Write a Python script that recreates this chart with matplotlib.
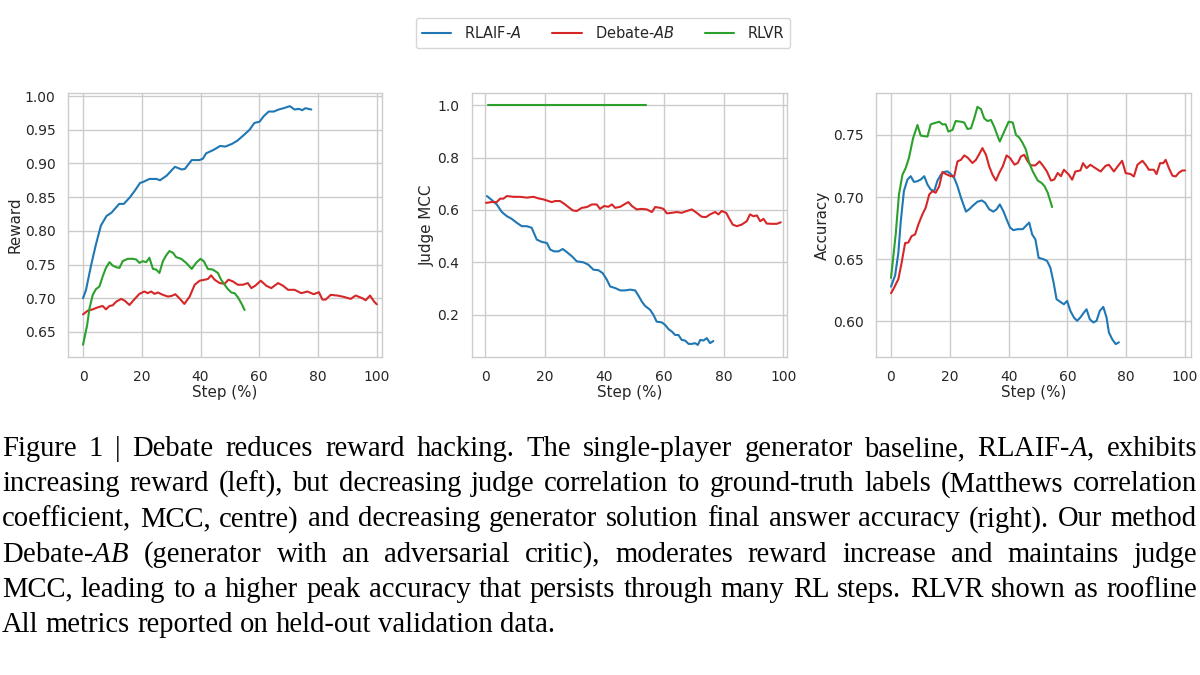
import numpy as np
import matplotlib
matplotlib.use("Agg")
import matplotlib.pyplot as plt
import seaborn as sns

# ---- data ----
steps_reward_rlaif = [0, 1.0, 2.7, 4.4, 6.1, 8, 9.7, 12.3, 13.9, 16, 17.7, 19.4, 20.7, 22.6, 25, 26.2,
                      28.5, 30.2, 31.3, 33.6, 34.7, 37, 39.6, 40.8, 41.9, 44.4, 46.7, 48.4, 50.7, 52.6,
                      54.7, 56.7, 58.3, 60.1, 61.5, 63.2, 64.9, 66.6, 68.3, 70.4, 72, 73.5, 74.6, 75.7, 77.7]
reward_rlaif = [0.700, 0.712, 0.748, 0.780, 0.808, 0.822, 0.827, 0.840, 0.840, 0.850, 0.860, 0.871,
                0.873, 0.877, 0.877, 0.875, 0.882, 0.890, 0.895, 0.891, 0.892, 0.905, 0.905, 0.907,
                0.915, 0.920, 0.926, 0.925, 0.929, 0.934, 0.942, 0.950, 0.960, 0.962, 0.970, 0.977,
                0.977, 0.980, 0.982, 0.985, 0.980, 0.981, 0.979, 0.982, 0.980]

steps_reward_debate = [0, 1.6, 3.3, 5, 6.7, 7.8, 9, 10.1, 11.3, 13, 14.3, 15.8, 17.5, 19.2, 20.9, 22,
                       23.2, 24.3, 25.5, 27.2, 28.9, 30.2, 31.4, 32.8, 34.5, 36.3, 38, 39.7, 41.4, 42.5,
                       43.6, 44.8, 46.5, 48.2, 49.5, 51, 52.7, 54.4, 56.1, 57.3, 58.6, 60.5, 62.4, 64.1,
                       66.4, 68.1, 69.8, 72, 74.3, 76.4, 78.5, 80.3, 81.5, 82.6, 84.3, 86.6, 88.8, 91.1,
                       92.8, 95.1, 96.2, 97.7, 99.1, 100]
reward_debate = [0.676, 0.6815, 0.6835, 0.6865, 0.6885, 0.6835, 0.6885, 0.6895, 0.695, 0.699, 0.696,
                 0.690, 0.6985, 0.7065, 0.710, 0.7075, 0.710, 0.7065, 0.7085, 0.705, 0.7025, 0.7035,
                 0.706, 0.700, 0.6915, 0.7025, 0.720, 0.726, 0.7275, 0.7285, 0.734, 0.7275, 0.7225,
                 0.7215, 0.7275, 0.725, 0.720, 0.720, 0.7225, 0.715, 0.7185, 0.726, 0.7185, 0.715,
                 0.7225, 0.7185, 0.7125, 0.7125, 0.7075, 0.710, 0.706, 0.709, 0.698, 0.698, 0.705,
                 0.704, 0.702, 0.699, 0.704, 0.700, 0.697, 0.704, 0.695, 0.691]

steps_reward_rlvr = [0, 1.4, 2.2, 3.3, 4.4, 5.6, 6.7, 7.8, 9, 10.1, 11.3, 12.4, 13.5, 15.2, 16.9, 18.1,
                     19.2, 20.3, 21.5, 22.6, 23.8, 24.9, 26, 27.2, 28.3, 29.4, 30.6, 31.7, 33.4, 35.1,
                     37, 38.5, 40, 41.1, 42.5, 44.2, 45.9, 47, 48.2, 49.3, 50.5, 51.6, 52.7, 53.9, 55]
reward_rlvr = [0.631, 0.660, 0.685, 0.705, 0.7135, 0.7175, 0.7325, 0.745, 0.7535, 0.7485, 0.746,
               0.745, 0.755, 0.7585, 0.7585, 0.7575, 0.7525, 0.755, 0.7535, 0.760, 0.7435, 0.7425,
               0.7375, 0.755, 0.7635, 0.770, 0.7675, 0.761, 0.7585, 0.7525, 0.7435, 0.7525, 0.7585,
               0.755, 0.7435, 0.7425, 0.7375, 0.7275, 0.720, 0.7135, 0.7085, 0.7075, 0.7015, 0.6925,
               0.6825]

steps_mcc_rlaif = [0.6, 2.2, 3.9, 5.6, 7.3, 8.9, 10.6, 12.3, 14, 15.6, 17.3, 19, 20.7, 21.8, 23.1, 24.6,
                   26, 27.4, 29.1, 30.7, 33, 34.6, 36.3, 38, 39.4, 40.8, 41.9, 43.6, 45.3, 46.9, 48.6,
                   50.3, 51.4, 52.5, 53.6, 55.3, 56.4, 57.5, 59.2, 60.3, 61.5, 62.6, 63.7, 64.8, 65.9,
                   67, 68.2, 69.3, 70.4, 71.3, 72.1, 73.2, 74.3, 75.4, 76.5]
mcc_rlaif = [0.653, 0.638, 0.621, 0.592, 0.576, 0.566, 0.551, 0.538, 0.538, 0.532, 0.487, 0.478, 0.474,
             0.449, 0.442, 0.442, 0.451, 0.439, 0.423, 0.404, 0.400, 0.391, 0.372, 0.370, 0.359, 0.334,
             0.308, 0.302, 0.293, 0.293, 0.296, 0.293, 0.273, 0.251, 0.234, 0.219, 0.200, 0.174, 0.171,
             0.162, 0.145, 0.136, 0.123, 0.123, 0.104, 0.102, 0.089, 0.089, 0.092, 0.085, 0.104, 0.102,
             0.111, 0.092, 0.100]

steps_mcc_debate = [0.3, 2.2, 3.9, 5, 6.1, 7.3, 9.5, 11.7, 14, 16.2, 17.9, 19.6, 21.2, 22.3, 23.5, 25.1,
                    26.3, 27.9, 29.4, 30.7, 32.4, 34.1, 35.8, 37.4, 38.5, 39.9, 41.3, 42.5, 43.6, 45.3,
                    46.6, 48, 49.2, 50.8, 52.5, 54.2, 55.9, 57, 58.7, 59.8, 60.9, 62.6, 64.2, 65.9, 67.6,
                    69.3, 70.9, 72.6, 74.1, 75.4, 77.1, 78.2, 79.3, 80.8, 81.9, 83, 84.4, 86, 87.7, 88.8,
                    89.9, 91.1, 92.2, 93.3, 94.4, 96.1, 97.8, 99.1]
mcc_debate = [0.627, 0.630, 0.630, 0.643, 0.643, 0.653, 0.650, 0.650, 0.647, 0.650, 0.644, 0.640, 0.634,
              0.630, 0.634, 0.634, 0.625, 0.611, 0.598, 0.596, 0.608, 0.611, 0.621, 0.621, 0.604, 0.615,
              0.612, 0.621, 0.608, 0.612, 0.621, 0.630, 0.615, 0.602, 0.604, 0.602, 0.592, 0.611, 0.608,
              0.604, 0.587, 0.589, 0.592, 0.589, 0.596, 0.602, 0.589, 0.574, 0.573, 0.583, 0.592, 0.583,
              0.596, 0.589, 0.566, 0.544, 0.538, 0.544, 0.557, 0.583, 0.576, 0.579, 0.557, 0.566, 0.548,
              0.547, 0.547, 0.553]

steps_mcc_rlvr = [0.8, 54]
mcc_rlvr = [1.0, 1.0]

steps_acc_rlaif = [0, 1.4, 2.5, 3.3, 4.4, 5.6, 6.7, 7.8, 9, 10.1, 11.3, 12.4, 13.5, 14.7, 15.8, 17, 18.1,
                   19.2, 20.3, 21.5, 22.6, 23.8, 25.5, 26.6, 27.7, 29.4, 30.9, 32, 33.4, 34.8, 35.9, 37,
                   38.2, 39.3, 40.5, 41.6, 43.1, 44.8, 45.9, 47, 48, 49.1, 50.2, 51.9, 53.1, 54.2, 55.3,
                   56.3, 57.6, 58.8, 59.9, 61, 62.2, 63.3, 64.4, 65.6, 66.5, 67.6, 68.8, 69.9, 71, 72.2,
                   73.3, 74.1, 75.2, 76.4, 77.5]
acc_rlaif = [0.628, 0.637, 0.655, 0.680, 0.705, 0.7141, 0.7168, 0.7122, 0.7128, 0.7141, 0.7168, 0.7101,
             0.7061, 0.7048, 0.7133, 0.7181, 0.7202, 0.7207, 0.7186, 0.7154, 0.7088, 0.6995, 0.6883,
             0.6902, 0.6928, 0.6963, 0.6973, 0.6955, 0.6902, 0.6883, 0.6902, 0.6941, 0.6888, 0.6822,
             0.6755, 0.6734, 0.6742, 0.6742, 0.6769, 0.6795, 0.670, 0.666, 0.6512, 0.650, 0.6486, 0.6432,
             0.6312, 0.6179, 0.6157, 0.6138, 0.6165, 0.6085, 0.6032, 0.6005, 0.6032, 0.6072, 0.6098,
             0.6018, 0.5992, 0.6005, 0.6085, 0.6117, 0.6032, 0.5912, 0.5858, 0.5818, 0.5832]

steps_acc_debate = [0, 0.8, 2.5, 3.6, 4.8, 5.9, 7, 8.2, 9.3, 10.7, 11.8, 13, 14.1, 15.2, 16.4, 17.5, 18.6,
                    20.3, 21.5, 22.6, 23.8, 24.9, 26, 27.7, 28.9, 30, 31.1, 32.3, 33.4, 34.5, 35.7, 36.8,
                    38, 39.3, 40.5, 42, 43.1, 44.2, 45.3, 46.5, 47.6, 49.1, 50.5, 51.6, 53, 54.4, 55.5,
                    56.7, 57.8, 58.8, 60.5, 61.6, 62.7, 64.4, 65.3, 66.5, 67.8, 69.5, 71.3, 73, 74.1, 75.8,
                    77.5, 78.6, 79.8, 81.5, 82.6, 83.8, 85.5, 86.6, 87.7, 89.4, 90.3, 91.5, 92.6, 93.4,
                    94.5, 95.7, 96.8, 98, 99.1, 100]
acc_debate = [0.6227, 0.626, 0.634, 0.647, 0.663, 0.6635, 0.6686, 0.670, 0.678, 0.6862, 0.6915, 0.7021,
              0.7048, 0.7035, 0.7088, 0.7202, 0.7186, 0.7168, 0.7168, 0.7287, 0.730, 0.7335, 0.7319,
              0.7274, 0.730, 0.7346, 0.7394, 0.734, 0.7247, 0.7181, 0.7133, 0.7194, 0.7247, 0.7335,
              0.7314, 0.7261, 0.7274, 0.7327, 0.734, 0.7287, 0.7255, 0.7255, 0.7287, 0.7255, 0.7207,
              0.7133, 0.7141, 0.7194, 0.7168, 0.722, 0.718, 0.714, 0.7206, 0.7214, 0.7273, 0.7233,
              0.726, 0.7233, 0.7206, 0.7252, 0.726, 0.7206, 0.726, 0.7292, 0.7193, 0.7185, 0.7166,
              0.726, 0.7292, 0.726, 0.722, 0.722, 0.7185, 0.7273, 0.7273, 0.730, 0.7233, 0.7172, 0.7166,
              0.7198, 0.7214, 0.7214]

steps_acc_rlvr = [0, 1.6, 2.7, 3.9, 5, 6.1, 7.5, 9, 10.1, 11.3, 12.4, 13.5, 15.2, 16.4, 17.5, 18.6, 19.5,
                  20.9, 22, 23.8, 24.9, 26, 27.2, 28.3, 29.4, 30.6, 31.7, 32.8, 34, 35.1, 36.3, 37, 38.5,
                  40, 41.4, 42.5, 43.6, 44.8, 45.9, 47, 48.2, 49.9, 51.2, 52.2, 53.3, 54.8]
acc_rlvr = [0.635, 0.670, 0.702, 0.718, 0.7234, 0.7314, 0.7473, 0.758, 0.7495, 0.749, 0.7487, 0.7585,
            0.7598, 0.7606, 0.7585, 0.7585, 0.7527, 0.754, 0.7612, 0.7606, 0.760, 0.7548, 0.7553,
            0.7633, 0.7726, 0.7707, 0.7633, 0.7612, 0.762, 0.7566, 0.7487, 0.7447, 0.7527, 0.7606,
            0.760, 0.750, 0.7479, 0.7434, 0.738, 0.7274, 0.7207, 0.7133, 0.7114, 0.7088, 0.7035, 0.692]

series_names = ["RLAIF-$\\mathit{A}$", "Debate-$\\mathit{AB}$", "RLVR"]
series_colors = ["#1f77b4", "#d62728", "#2ca02c"]

caption_lines = [
    "Figure 1 | Debate reduces reward hacking. The single-player generator baseline, RLAIF-$\\mathit{A}$, exhibits",
    "increasing reward (left), but decreasing judge correlation to ground-truth labels (Matthews correlation",
    "coefficient, MCC, centre) and decreasing generator solution final answer accuracy (right). Our method",
    "Debate-$\\mathit{AB}$ (generator with an adversarial critic), moderates reward increase and maintains judge",
    "MCC, leading to a higher peak accuracy that persists through many RL steps. RLVR shown as roofline",
    "All metrics reported on held-out validation data.",
]

# ---- style ----
sns.set_theme(style="whitegrid")
plt.rcParams["font.family"] = ["DejaVu Sans"]
plt.rcParams["mathtext.fontset"] = "dejavusans"
plt.rcParams["mathtext.it"] = "Liberation Serif:italic"
plt.rcParams["mathtext.rm"] = "Liberation Serif"

fig = plt.figure(figsize=(12, 6.75), dpi=100)

panels = [
    dict(rect=[0.0567, 0.4711, 0.2617, 0.3911], ylabel="Reward",
         xlim=(-5.1, 101.8), ylim=(0.6128, 1.0045), yticks=np.arange(0.65, 1.001, 0.05), fmt="%.2f",
         series=[(steps_reward_rlaif, reward_rlaif), (steps_reward_debate, reward_debate),
                 (steps_reward_rlvr, reward_rlvr)]),
    dict(rect=[0.3931, 0.4711, 0.2625, 0.3911], ylabel="Judge MCC",
         xlim=(-4.5, 101.1), ylim=(0.039, 1.046), yticks=np.arange(0.2, 1.01, 0.2), fmt="%.1f",
         series=[(steps_mcc_rlaif, mcc_rlaif), (steps_mcc_debate, mcc_debate),
                 (steps_mcc_rlvr, mcc_rlvr)]),
    dict(rect=[0.7300, 0.4711, 0.2622, 0.3911], ylabel="Accuracy",
         xlim=(-5.1, 101.9), ylim=(0.5714, 0.7837), yticks=np.arange(0.60, 0.751, 0.05), fmt="%.2f",
         series=[(steps_acc_rlaif, acc_rlaif), (steps_acc_debate, acc_debate),
                 (steps_acc_rlvr, acc_rlvr)]),
]

handles = []
for p in panels:
    ax = fig.add_axes(p["rect"])
    lines = []
    for (xs, ys), c in zip(p["series"], series_colors):
        ln, = ax.plot(xs, ys, color=c, lw=1.5)
        lines.append(ln)
    handles = lines
    ax.set_xlim(*p["xlim"])
    ax.set_ylim(*p["ylim"])
    ax.set_xticks(np.arange(0, 101, 20))
    ax.set_yticks(p["yticks"])
    ax.yaxis.set_major_formatter(matplotlib.ticker.FormatStrFormatter(p["fmt"]))
    ax.tick_params(labelsize=10, colors="0.15", pad=3)
    ax.set_xlabel("Step (%)", fontsize=10.9, color="0.15", labelpad=1)
    ax.set_ylabel(p["ylabel"], fontsize=10.9, color="0.15", labelpad=2)
    for s in ax.spines.values():
        s.set_color("0.8")
        s.set_linewidth(1.0)
    ax.grid(color="0.8", lw=1.0)

leg = fig.legend(handles, series_names, loc="center", bbox_to_anchor=(603 / 1200, 1 - 33 / 675),
                 ncol=3, fontsize=10.5, frameon=True, handlelength=2.0, handletextpad=0.9,
                 columnspacing=2.1, borderpad=0.45)
leg.get_frame().set_edgecolor("0.8")

# caption: justified lines, words placed one by one
renderer = fig.canvas.get_renderer()
cap_size = 20.6
x_left = 2 / 1200
x_right = 1197 / 1200
for i, line in enumerate(caption_lines):
    y = 1 - (456 + 35.2 * i) / 675
    words = line.split(" ")
    texts = [fig.text(0, y, w, family="Liberation Serif", fontsize=cap_size, color="black",
                      va="baseline", ha="left", math_fontfamily="custom") for w in words]
    widths = [t.get_window_extent(renderer).width / 1200 for t in texts]
    if i < len(caption_lines) - 1:
        gap = (x_right - x_left - sum(widths)) / (len(words) - 1)
    else:
        gap = 0.25 * cap_size * 100 / 72 / 1200
    x = x_left
    for t, w in zip(texts, widths):
        t.set_x(x)
        x += w + gap

fig.savefig("out.png", dpi=100)
